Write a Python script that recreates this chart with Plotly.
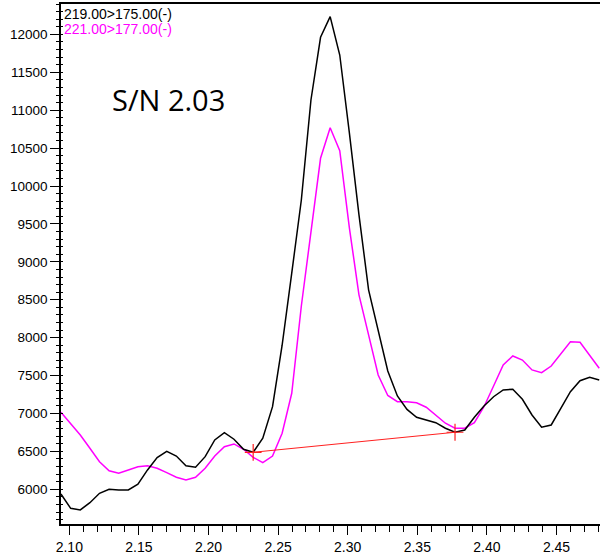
import plotly.graph_objects as go

# retention time (min)
times = [2.0940, 2.1010, 2.1079, 2.1148, 2.1217, 2.1286, 2.1355, 2.1424, 2.1493, 2.1562,
         2.1631, 2.1700, 2.1769, 2.1838, 2.1907, 2.1976, 2.2045, 2.2114, 2.2183, 2.2252,
         2.2321, 2.2390, 2.2460, 2.2529, 2.2598, 2.2667, 2.2736, 2.2805, 2.2874, 2.2943,
         2.3012, 2.3081, 2.3150, 2.3219, 2.3288, 2.3357, 2.3426, 2.3495, 2.3564, 2.3633,
         2.3702, 2.3771, 2.3841, 2.3910, 2.3979, 2.4048, 2.4117, 2.4186, 2.4255, 2.4324,
         2.4393, 2.4462, 2.4531, 2.4600, 2.4669, 2.4738, 2.4807]

# transition 219.00>175.00
trace_219 = [5938, 5749, 5727, 5823, 5947, 6000, 5991, 5991, 6066, 6255,
             6417, 6501, 6439, 6311, 6290, 6430, 6650, 6747, 6660, 6528,
             6488, 6673, 7090, 7900, 8850, 9816, 11135, 11962, 12234, 11728,
             10700, 9620, 8631, 8088, 7560, 7231, 7053, 6950, 6914, 6878,
             6805, 6752, 6782, 6950, 7099, 7221, 7310, 7319, 7187, 6980,
             6818, 6848, 7068, 7287, 7432, 7477, 7442]

# transition 221.00>177.00
trace_221 = [7016, 6865, 6716, 6541, 6364, 6245, 6211, 6255, 6298, 6311,
             6277, 6219, 6158, 6123, 6158, 6277, 6439, 6562, 6598, 6528,
             6422, 6351, 6439, 6739, 7266, 8418, 9394, 10366, 10769, 10466,
             9449, 8565, 8037, 7508, 7237, 7155, 7155, 7142, 7082, 6980,
             6871, 6805, 6805, 6878, 7089, 7362, 7640, 7758, 7705, 7574,
             7538, 7626, 7794, 7947, 7939, 7771, 7596]

# integration baseline
baseline_t = [2.2321, 2.3771]
baseline_v = [6488, 6752]

labels = ["219.00>175.00(-)", "221.00>177.00(-)"]
sn_text = "S/N 2.03"

x_range = [2.09404, 2.48125]
y_range = [5542, 12401]

fig = go.Figure()
fig.add_trace(go.Scatter(x=times, y=trace_221, mode="lines",
                         line=dict(color="#ff00ff", width=1.5), showlegend=False))
fig.add_trace(go.Scatter(x=times, y=trace_219, mode="lines",
                         line=dict(color="#000000", width=1.5), showlegend=False))
fig.add_trace(go.Scatter(x=baseline_t, y=baseline_v, mode="lines+markers",
                         line=dict(color="#ff2020", width=1),
                         marker=dict(symbol="cross-thin-open", size=12,
                                     line=dict(color="#ff2020", width=1.2)),
                         showlegend=False))

fig.add_annotation(x=0, y=1, xref="paper", yref="paper", xanchor="left", yanchor="top",
                   text=labels[0], showarrow=False, xshift=1,
                   font=dict(family="Liberation Sans, Arial", size=14, color="#000000"))
fig.add_annotation(x=0, y=1, xref="paper", yref="paper", xanchor="left", yanchor="top",
                   text=labels[1], showarrow=False, xshift=1, yshift=-14.5,
                   font=dict(family="Liberation Sans, Arial", size=14, color="#ff00ff"))
fig.add_annotation(x=0.0909, y=0.817, xref="paper", yref="paper", xanchor="left", yanchor="middle",
                   text=sn_text, showarrow=False,
                   font=dict(family="Open Sans", size=29, color="#000000"))

fig.update_layout(
    width=600, height=556,
    margin=dict(l=61, r=0, t=4, b=32),
    paper_bgcolor="white", plot_bgcolor="white",
    font=dict(family="Liberation Sans, Arial", size=14, color="#000000"),
    xaxis=dict(range=x_range, dtick=0.05, tick0=2.0, tickformat=".2f", automargin=False,
               showgrid=False, zeroline=False, showline=True, linecolor="#000000", linewidth=1.5,
               mirror=True, ticks="outside", ticklen=9, tickwidth=1, tickcolor="#000000",
               tickfont=dict(size=14),
               minor=dict(dtick=0.01, tick0=2.0, ticks="outside", ticklen=6, tickwidth=1,
                          tickcolor="#000000", showgrid=False)),
    yaxis=dict(range=y_range, dtick=500, tick0=0, tickformat="d", automargin=False,
               showgrid=False, zeroline=False, showline=True, linecolor="#000000", linewidth=1.5,
               ticks="outside", ticklen=9, tickwidth=1, tickcolor="#000000",
               tickfont=dict(size=13.5),
               minor=dict(dtick=100, tick0=0, ticks="outside", ticklen=3, tickwidth=1,
                          tickcolor="#000000", showgrid=False)),
    # inner half of the minor ticks that cross the value axis
    yaxis2=dict(range=y_range, overlaying="y", anchor="x", side="left", dtick=100, tick0=0,
                showticklabels=False, showgrid=False, zeroline=False, showline=False,
                ticks="inside", ticklen=2, tickwidth=1, tickcolor="#000000", automargin=False),
)
fig.add_trace(go.Scatter(x=baseline_t, y=baseline_v, yaxis="y2", mode="none",
                         hoverinfo="skip", showlegend=False))

fig.write_html("out.html", config={"displayModeBar": False},
               post_script="document.body.style.margin='0';document.body.style.overflow='hidden';")
